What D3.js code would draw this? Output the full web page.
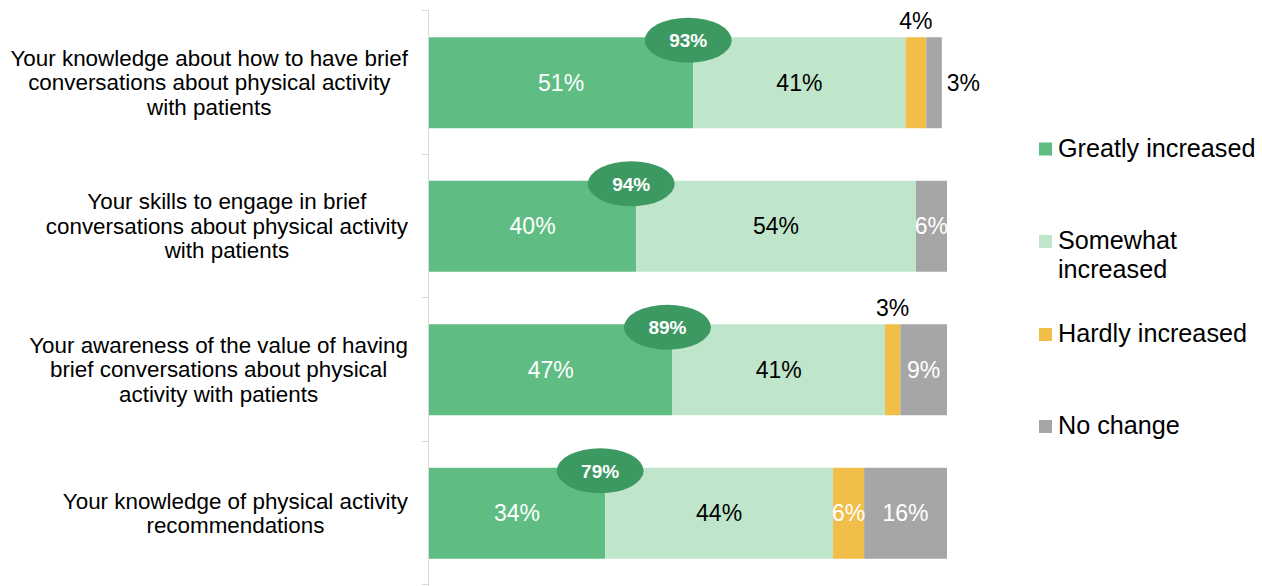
<!DOCTYPE html>
<html><head><meta charset="utf-8">
<script src="https://cdn.jsdelivr.net/npm/d3@7"></script>
<style>body{margin:0;background:#fff;}svg{display:block;font-family:"Liberation Sans",Arial,sans-serif;}</style>
</head><body>
<svg id="chart" width="1262" height="586"></svg>
<script>
const categories = [
  ["Your knowledge about how to have brief", "conversations about physical activity", "with patients"],
  ["Your skills to engage in brief", "conversations about physical activity", "with patients"],
  ["Your awareness of the value of having", "brief conversations about physical", "activity with patients"],
  ["Your knowledge of physical activity", "recommendations"]
];
const seriesNames = ["Greatly increased", "Somewhat increased", "Hardly increased", "No change"];
const greatly  = [51, 40, 47, 34];
const somewhat = [41, 54, 41, 44];
const hardly   = [4, 0, 3, 6];
const noChange = [3, 6, 9, 16];
const totals   = [93, 94, 89, 79];
const colors = ["#5fbd84", "#bfe5cb", "#f2be4a", "#a6a6a6"];
const labelColors = ["#ffffff", "#000000", "#ffffff", "#ffffff"];

const svg = d3.select("#chart");
const x = d3.scaleLinear().domain([0, 100]).range([429, 947]);
const y = d3.scaleBand().domain(d3.range(categories.length)).range([11, 585]).paddingInner(0.366).paddingOuter(0.183);

const series = [greatly, somewhat, hardly, noChange];

// axis line
svg.append("line").attr("x1", 428.5).attr("x2", 428.5).attr("y1", 10).attr("y2", 586).attr("stroke", "#d9d9d9").attr("stroke-width", 1);
const step = y.step();
d3.range(categories.length + 1).forEach(i => {
  const yy = Math.round(11 + i * step) - 0.5;
  svg.append("line").attr("x1", 422).attr("x2", 429).attr("y1", yy).attr("y2", yy).attr("stroke", "#d9d9d9");
});

categories.forEach((lines, i) => {
  const bw = y.bandwidth();
  const top = y(i);
  const cy = top + bw / 2;
  let start = 0;
  series.forEach((s, k) => {
    const v = s[i];
    if (v <= 0) return;
    const x0 = x(start), x1 = x(start + v);
    svg.append("rect").attr("x", x0).attr("y", top).attr("width", x1 - x0).attr("height", bw).attr("fill", colors[k]);
    start += v;
  });
  // value labels
  start = 0;
  series.forEach((s, k) => {
    const v = s[i];
    if (v <= 0) return;
    const x0 = x(start), x1 = x(start + v);
    const t = svg.append("text").attr("font-size", 23).text(v + "%");
    if (v < 5 && k === 2) {
      t.attr("x", (x0 + x1) / 2).attr("y", top - 8).attr("text-anchor", "middle").attr("fill", "#000");
    } else if (v < 5 && k === 3) {
      t.attr("x", x1 + 5).attr("y", cy + 8).attr("text-anchor", "start").attr("fill", "#000");
    } else {
      t.attr("x", (x0 + x1) / 2).attr("y", cy + 8).attr("text-anchor", "middle").attr("fill", labelColors[k]);
    }
    start += v;
  });
  // total bubble
  const bx = x(greatly[i]) - 5;
  svg.append("ellipse").attr("cx", bx).attr("cy", top + 3).attr("rx", 43.5).attr("ry", 22.5).attr("fill", "#3d9962");
  svg.append("text").attr("x", bx).attr("y", top + 10).attr("text-anchor", "middle").attr("font-size", 19).attr("font-weight", "bold").attr("fill", "#fff").text(totals[i] + "%");

  // category label
  const g = svg.append("g");
  const lh = 24.5;
  const texts = lines.map((ln, j) => g.append("text").attr("font-size", 22.4).attr("fill", "#000").attr("text-anchor", "middle")
    .attr("y", cy + (j - (lines.length - 1) / 2) * lh + 7.5).text(ln));
  const w = d3.max(texts, t => t.node().getComputedTextLength());
  texts.forEach(t => t.attr("x", 408 - w / 2));
});

// legend
const legY = [156.5, 249, 342, 434];
seriesNames.forEach((name, k) => {
  svg.append("rect").attr("x", 1039).attr("y", legY[k] - 14).attr("width", 13).attr("height", 13).attr("fill", colors[k]);
  const parts = k === 1 ? ["Somewhat", "increased"] : [name];
  parts.forEach((p, j) => {
    svg.append("text").attr("x", 1058).attr("y", legY[k] + j * 29).attr("font-size", 25.2).attr("fill", "#000").text(p);
  });
});
</script>
</body></html>
